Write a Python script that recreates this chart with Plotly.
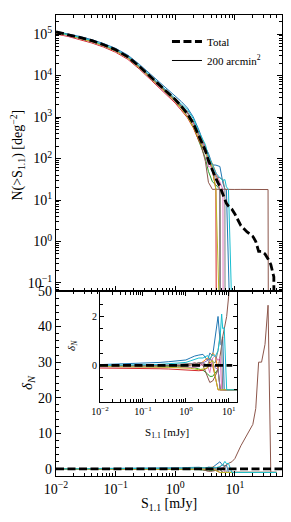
import plotly.graph_objects as go

# ---------------- data ----------------
S = [0.01, 0.016, 0.025, 0.04, 0.063, 0.1, 0.16, 0.25, 0.4, 0.63, 1.0, 1.26, 1.6, 2.0, 2.5,
     3.2, 3.6, 4.2, 4.8, 5.6, 6.3, 6.8, 7.2, 7.8, 8.9, 10.0, 12.6, 16.0, 20.0, 22.4, 25.0,
     28.0, 32.0, 36.0, 40.0, 45.0, 50.0]

N_total = [112000, 98000, 83000, 69000, 55000, 41700, 28200, 16600, 8900, 4800, 2630, 1820,
           1200, 708, 331, 155, 89, 50, 33, 21.4, 13.5, 10.0, 8.3, 7.1, 6.0, 4.6, 2.4, 1.7,
           1.33, 1.0, 0.58, 0.58, 0.50, 0.38, 0.28, 0.14, 0]

delta_blue = [0.03, 0.04, 0.05, 0.06, 0.07, 0.08, 0.10, 0.12, 0.15, 0.18, 0.22, 0.30, 0.38, 0.42,
              0.45, 0.20, 0.50, 0.40, 1.10, 2.00, 0.90, 0.80, 1.17,
              -1, -1, -1, -1, -1, -1, -1, -1, -1, -1, -1, -1, -1, -1]
delta_orange = [-0.04, -0.04, -0.04, -0.05, -0.05, -0.05, -0.04, -0.04, -0.03, -0.02, 0.0, 0.05,
                0.10, 0.05, 0.15, 0.30, 0.20, 0.50, 0.40, -0.16,
                -1, -1, -1, -1, -1, -1, -1, -1, -1, -1, -1, -1, -1, -1, -1, -1, -1]
delta_green = [-0.02, -0.02, -0.03, -0.03, -0.03, -0.04, -0.04, -0.05, -0.05, -0.05, -0.06, -0.08,
               -0.10, -0.15, -0.20, -0.35, -0.45, -0.45, -0.30, -0.16,
               -1, -1, -1, -1, -1, -1, -1, -1, -1, -1, -1, -1, -1, -1, -1, -1, -1]
delta_red = [-0.11, -0.11, -0.12, -0.12, -0.12, -0.13, -0.13, -0.14, -0.15, -0.17, -0.18, -0.20,
             -0.20, -0.22, -0.20, -0.10, 0.15, 0.00, -0.45,
             -1, -1, -1, -1, -1, -1, -1, -1, -1, -1, -1, -1, -1, -1, -1, -1, -1, -1, -1]
delta_purple = [-0.03, -0.03, -0.03, -0.03, -0.02, -0.02, -0.02, -0.02, 0.0, 0.0, 0.02, 0.05,
                0.10, 0.05, 0.10, 0.20, 0.30, 0.10, -0.10, -0.16,
                -1, -1, -1, -1, -1, -1, -1, -1, -1, -1, -1, -1, -1, -1, -1, -1, -1]
delta_brown = [-0.03, -0.03, -0.03, -0.03, -0.03, -0.03, -0.03, -0.02, -0.02, -0.02, -0.02, 0.00,
               0.05, 0.10, 0.00, -0.45, -0.70, -0.64, -0.45, -0.16, 0.33, 0.80, 1.17, 1.54, 2.00,
               2.90, 6.50, 9.60, 12.5, 17.0, 30.0, 30.0, 35.0, 46.0, -1, -1, -1]
delta_pink = [-0.07, -0.07, -0.07, -0.08, -0.08, -0.08, -0.09, -0.09, -0.10, -0.10, -0.10, -0.10,
              -0.08, -0.05, 0.05, 0.00, -0.30, 0.30, 0.40, 0.20, 0.33,
              -1, -1, -1, -1, -1, -1, -1, -1, -1, -1, -1, -1, -1, -1, -1, -1]
delta_gray = [-0.02, -0.02, -0.02, -0.01, -0.01, 0.0, 0.0, 0.01, 0.02, 0.04, 0.06, 0.08, 0.05,
              0.12, 0.10, 0.0, 0.30, 0.15, 0.10, 0.60, 1.30, 0.80,
              -1, -1, -1, -1, -1, -1, -1, -1, -1, -1, -1, -1, -1, -1, -1]
delta_olive = [-0.05, -0.05, -0.06, -0.06, -0.06, -0.07, -0.07, -0.08, -0.08, -0.10, -0.10, -0.12,
               -0.15, -0.18, -0.15, -0.10, 0.10, 0.20, -0.45,
               -1, -1, -1, -1, -1, -1, -1, -1, -1, -1, -1, -1, -1, -1, -1, -1, -1, -1, -1]
delta_cyan = [0.0, 0.0, 0.0, 0.01, 0.01, 0.02, 0.03, 0.04, 0.06, 0.08, 0.12, 0.18, 0.25, 0.30,
              0.30, 0.40, 0.25, 0.45, 0.35, 0.60, 1.20, 2.10, 1.50, 1.54,
              -1, -1, -1, -1, -1, -1, -1, -1, -1, -1, -1, -1, -1]

S_inset_ref = [0.01, 12.0]
delta_total_inset = [0.0, 0.0]

# tick labels
N_ticks = [0.1, 1, 10, 100, 1000, 10000, 100000]
N_ticklabels = ['10<sup>\u22121</sup>', '10<sup>0</sup>', '10<sup>1</sup>', '10<sup>2</sup>',
                '10<sup>3</sup>', '10<sup>4</sup>', '10<sup>5</sup>']
S_ticks = [0.01, 0.1, 1, 10]
S_ticklabels = ['10<sup>\u22122</sup>', '10<sup>\u22121</sup>', '10<sup>0</sup>', '10<sup>1</sup>']

series = [delta_blue, delta_orange, delta_green, delta_red, delta_purple,
          delta_brown, delta_pink, delta_gray, delta_olive, delta_cyan]
colors = ['#1f77b4', '#ff7f0e', '#2ca02c', '#d62728', '#9467bd',
          '#8c564b', '#e377c2', '#7f7f7f', '#bcbd22', '#17becf']

FLOOR = 1e-30  # stands in for zero counts on the log axis
FONT = "Liberation Serif"

fig = go.Figure()

for d, c in zip(series, colors):
    n_i = [max(t * (1 + v), FLOOR) for t, v in zip(N_total, d)]
    fig.add_trace(go.Scatter(x=S, y=n_i, mode='lines', line=dict(color=c, width=1),
                             xaxis='x', yaxis='y', showlegend=False, hoverinfo='skip'))
    fig.add_trace(go.Scatter(x=S, y=d, mode='lines', line=dict(color=c, width=1),
                             xaxis='x2', yaxis='y2', showlegend=False, hoverinfo='skip'))
    fig.add_trace(go.Scatter(x=S, y=d, mode='lines', line=dict(color=c, width=1),
                             xaxis='x3', yaxis='y3', showlegend=False, hoverinfo='skip'))

DASH = dict(color='black', width=2.8, dash='8px,3.5px')
fig.add_trace(go.Scatter(x=S, y=[max(v, FLOOR) for v in N_total], mode='lines', line=DASH,
                         xaxis='x', yaxis='y', name='Total'))
fig.add_trace(go.Scatter(x=[None], y=[None], mode='lines', line=dict(color='black', width=1),
                         xaxis='x', yaxis='y', name='200 arcmin<sup>2</sup>'))
fig.add_trace(go.Scatter(x=S_inset_ref, y=delta_total_inset, mode='lines', line=DASH,
                         xaxis='x3', yaxis='y3', showlegend=False))
fig.add_shape(type='line', xref='x2 domain', yref='y2', x0=0, x1=1, y0=0, y1=0,
              line=DASH, layer='above')

TOP = 0.4013
minor_S = [k * 10.0 ** e for e in range(-2, 2) for k in range(2, 10)]
minor_N = [k * 10.0 ** e for e in range(-2, 6) for k in range(2, 10)]

tick_common = dict(ticks='inside', mirror='allticks', showline=True, linecolor='black',
                   linewidth=1.2, tickcolor='black', tickwidth=1, ticklen=5, showgrid=False,
                   zeroline=False, tickfont=dict(family=FONT, size=14, color='black'))


def minor_log(vals, ln=3):
    return dict(tickmode='array', tickvals=vals, ticks='inside', ticklen=ln,
                tickcolor='black', tickwidth=0.8, showgrid=False)


small = dict(family=FONT, size=10, color='black')

# the page adds an 8 px body margin, so the figure is drawn smaller to fit the window
fig.update_layout(
    width=275, height=506,
    margin=dict(l=48, r=1, t=7, b=38),
    paper_bgcolor='white', plot_bgcolor='white',
    font=dict(family=FONT, color='black'),
    xaxis=dict(domain=[0, 1], anchor='y', type='log', range=[-2, 1.79],
               tickmode='array', tickvals=S_ticks, ticktext=S_ticklabels,
               showticklabels=False, minor=minor_log(minor_S), **tick_common),
    yaxis=dict(domain=[TOP, 1], anchor='x', type='log', range=[-1.193, 5.458],
               tickmode='array', tickvals=N_ticks, ticktext=N_ticklabels,
               minor=minor_log(minor_N), **tick_common),
    xaxis2=dict(domain=[0, 1], anchor='y2', type='log', range=[-2, 1.79],
                tickmode='array', tickvals=S_ticks, ticktext=S_ticklabels,
                minor=minor_log(minor_S), **tick_common),
    yaxis2=dict(domain=[0, TOP], anchor='x2', range=[-2, 50], dtick=10, tick0=0,
                minor=dict(ticks='inside', ticklen=3, dtick=2, tick0=0, tickcolor='black',
                           showgrid=False),
                **tick_common),
    xaxis3=dict(domain=[0.1947, 0.8009], anchor='y3', type='log', range=[-2, 1.19],
                tickmode='array', tickvals=S_ticks, ticktext=S_ticklabels,
                minor=minor_log(minor_S, 2.5),
                **{**tick_common, 'tickfont': small, 'ticklen': 4}),
    yaxis3=dict(domain=[0.1605, 0.3991], anchor='x3', range=[-1.5, 3], dtick=2, tick0=0,
                minor=dict(ticks='inside', ticklen=2.5, dtick=0.5, tick0=0, tickcolor='black',
                           showgrid=False),
                **{**tick_common, 'tickfont': small, 'ticklen': 4}),
    legend=dict(x=0.491, y=0.974, xanchor='left', yanchor='top', bgcolor='rgba(0,0,0,0)',
                font=dict(family=FONT, size=11, color='black'), tracegroupgap=0, itemwidth=30),
    showlegend=True,
)

ann = dict(showarrow=False, xref='paper', yref='paper', xanchor='center', yanchor='middle',
           font=dict(family=FONT, size=15, color='black'))
fig.add_annotation(text='N(&gt;S<sub>1.1</sub>) [deg<sup>\u22122</sup>]', x=-0.170, y=0.6963,
                   textangle=-90, **dict(ann, font=dict(family=FONT, size=14, color='black')))
fig.add_annotation(text='<i>\u03b4</i><sub><i>N</i></sub>', x=-0.1239, y=0.2039, textangle=-90, **ann)
fig.add_annotation(text='S<sub>1.1</sub> [mJy]', x=0.50, y=-0.0629,
                   **dict(ann, font=dict(family=FONT, size=14, color='black')))
ann_small = dict(ann, font=dict(family=FONT, size=11, color='black'))
fig.add_annotation(text='S<sub>1.1</sub> [mJy]', x=0.4912, y=0.0933, **ann_small)
fig.add_annotation(text='<i>\u03b4</i><sub><i>N</i></sub>', x=0.0708, y=0.282, textangle=-90,
                   **ann_small)

fig.write_html("out.html")
